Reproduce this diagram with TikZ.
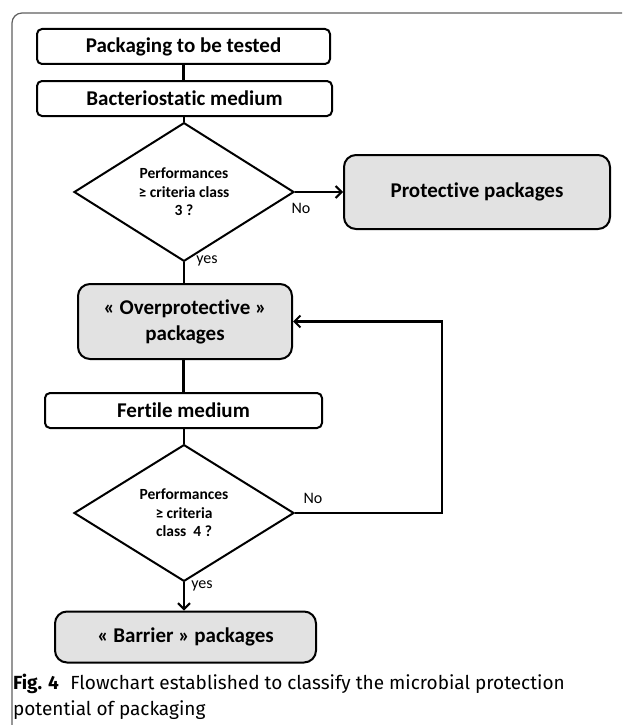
\documentclass[tikz,border=0pt]{standalone}
\usepackage{fontspec}
\setmainfont{Carlito}[RawFeature={-liga;-clig;-calt;-dlig}]
\newfontfamily\capfont{Fira Sans}
\usetikzlibrary{shapes.geometric}
\usetikzlibrary{arrows.meta}
\tikzset{stepbox/.style = {draw, line width=2, rounded corners=5, inner sep=0,
                           font=\fontsize{21}{24}\selectfont\bfseries}}
\tikzset{result/.style = {stepbox, fill=mgray, rounded corners=12, align=center,
                          font=\fontsize{21}{26}\selectfont\bfseries}}
\tikzset{test/.style = {draw, diamond, line width=2, minimum width=220, minimum height=120,
                        inner sep=0, align=center, font=\fontsize{15.5}{18.5}\selectfont\bfseries}}
\tikzset{lbl/.style = {inner sep=0, font=\fontsize{16}{18}\selectfont}}
\tikzset{arr/.style = {-{Straight Barb[length=6, width=12, line width=2]}}}
\definecolor{mgray}{RGB}{226, 226, 226}
\definecolor{mframe}{RGB}{95, 95, 95}

\begin{document}
\begin{tikzpicture}[x=1pt, y=-1pt, line width=2.2pt]
      \useasboundingbox (0, 0) rectangle (622, 725);
      \draw [mframe, line width=1.2, rounded corners=10] (622, 13) -- (12, 13) -- (12, 725);

      \node [stepbox, minimum width=293, minimum height=35] (pack) at (183.5, 46.5) {Packaging to be tested};
      \node [stepbox, minimum width=295, minimum height=35] (bact) at (184.5, 98.5) {Bacteriostatic medium};
      \node [test] (perf3) at (184, 192) {Performances\\≥ criteria class\\3 ?};
      \node [result, minimum width=266, minimum height=74] (prot) at (477, 192) {Protective packages};
      \node [result, minimum width=214, minimum height=75] (over) at (185, 321.5) {« Overprotective »\\packages};
      \node [stepbox, minimum width=277, minimum height=35] (fert) at (183.5, 410.5) {Fertile medium};
      \node [test] (perf4) at (184, 513) {Performances\\≥ criteria\\class~~4 ?};
      \node [result, minimum width=261, minimum height=51] (barr) at (185.5, 637) {« Barrier » packages};

      \node [lbl] (no3) at (301, 208) {No};
      \node [lbl] (yes3) at (207, 261) {yes};
      \node [lbl] (no4) at (313, 498) {No};
      \node [lbl] (yes4) at (202, 586) {yes};

      \coordinate (loop) at (442, 513);

      \draw (pack.south) -- (pack.south |- bact.north);
      \draw (bact.south -| perf3.north) -- (perf3.north);
      \draw [arr] (perf3.east) -- (prot.west);
      \draw (perf3.south) -- (perf3.south |- over.north);
      \draw (over.south -| fert.north) -- (fert.north);
      \draw (fert.south -| perf4.north) -- (perf4.north);
      \draw [arr] (perf4.east) -- (loop) |- (over.east);
      \draw [arr] (perf4.south) -- (perf4.south |- barr.north);

      \node [anchor=north west, inner sep=0, align=left,
             font=\capfont\fontsize{19}{26}\selectfont] (caption) at (12, 673)
            {\textbf{Fig. 4}\hspace{0.6em}Flowchart established to classify the microbial protection\\potential of packaging};
    \end{tikzpicture}
\end{document}
